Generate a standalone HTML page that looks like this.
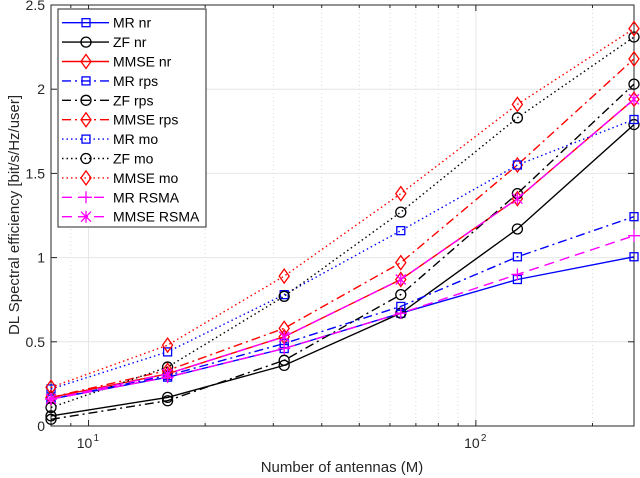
<!DOCTYPE html>
<html><head><meta charset="utf-8"><style>
html,body{margin:0;padding:0;background:#fff;}
svg{display:block;font-family:"Liberation Sans",Arial,sans-serif;}
</style></head><body>
<svg id="chart" width="640" height="478" viewBox="0 0 640 478"></svg>
<script>
const antennas = [8, 16, 32, 64, 128, 256];
const mrNr    = [0.16, 0.29, 0.46, 0.67, 0.87, 1.005];
const zfNr    = [0.06, 0.17, 0.36, 0.67, 1.17, 1.79];
const mmseNr  = [0.17, 0.31, 0.53, 0.87, 1.35, 1.94];
const mrRps   = [0.16, 0.30, 0.49, 0.71, 1.005, 1.243];
const zfRps   = [0.04, 0.15, 0.39, 0.78, 1.38, 2.03];
const mmseRps = [0.17, 0.33, 0.58, 0.97, 1.55, 2.18];
const mrMo    = [0.22, 0.44, 0.78, 1.16, 1.55, 1.82];
const zfMo    = [0.11, 0.35, 0.77, 1.27, 1.83, 2.31];
const mmseMo  = [0.23, 0.48, 0.89, 1.38, 1.91, 2.36];
const mrRsma  = [0.16, 0.29, 0.46, 0.67, 0.90, 1.13];
const mmseRsma= [0.16, 0.31, 0.53, 0.87, 1.35, 1.94];
const yTicks = [0, 0.5, 1, 1.5, 2, 2.5];
const yTickLabels = ["0", "0.5", "1", "1.5", "2", "2.5"];

const svg = document.getElementById('chart');
const NS = 'http://www.w3.org/2000/svg';
const L = 51, R = 634, T = 5, B = 426;
const xMin = 8, xMax = 256, yMin = 0, yMax = 2.5;
function xs(v){ return L + (Math.log10(v) - Math.log10(xMin)) / (Math.log10(xMax) - Math.log10(xMin)) * (R - L); }
function ys(v){ return B - (v - yMin) / (yMax - yMin) * (B - T); }
function mk(tag, attrs, parent){
  const e = document.createElementNS(NS, tag);
  for (const k in attrs) e.setAttribute(k, attrs[k]);
  (parent || svg).appendChild(e);
  return e;
}

// grid
const grid = mk('g', {});


const minorX = [9, 20, 30, 40, 50, 60, 70, 80, 90, 200];
minorX.forEach(v => mk('line', {x1: xs(v), x2: xs(v), y1: T, y2: B, stroke: '#d8d8d8', 'stroke-width': 1, 'stroke-dasharray': '1,3'}, grid));
[10, 100].forEach(v => mk('line', {x1: xs(v), x2: xs(v), y1: T, y2: B, stroke: '#e6e6e6', 'stroke-width': 1}, grid));
yTicks.forEach(v => mk('line', {x1: L, x2: R, y1: ys(v), y2: ys(v), stroke: '#e6e6e6', 'stroke-width': 1}, grid));

// axes box
const box = mk('rect', {x: L, y: T, width: R - L, height: B - T, fill: 'none', stroke: '#262626', 'stroke-width': 1});



// ticks
const ticks = mk('g', {stroke: '#262626', 'stroke-width': 1});


yTicks.forEach(v => {
  mk('line', {x1: L, x2: L + 6, y1: ys(v), y2: ys(v)}, ticks);
  mk('line', {x1: R, x2: R - 6, y1: ys(v), y2: ys(v)}, ticks);
});
[10, 100].forEach(v => {
  mk('line', {x1: xs(v), x2: xs(v), y1: B, y2: B - 6}, ticks);
  mk('line', {x1: xs(v), x2: xs(v), y1: T, y2: T + 6}, ticks);
});
minorX.concat([8]).forEach(v => {
  mk('line', {x1: xs(v), x2: xs(v), y1: B, y2: B - 3}, ticks);
  mk('line', {x1: xs(v), x2: xs(v), y1: T, y2: T + 3}, ticks);
});

// tick labels
yTicks.forEach((v, i) => {
  const t = mk('text', {x: L - 6, y: ys(v) + 5, 'text-anchor': 'end', 'font-size': 14, fill: '#262626'});
  t.textContent = yTickLabels[i];
  
  
});
[[10, '1'], [100, '2']].forEach(([v, e]) => {
  const t = mk('text', {x: xs(v) - 4, y: 448, 'text-anchor': 'middle', 'font-size': 14, fill: '#262626'});
  t.textContent = '10';
  
  
  const s = mk('text', {x: xs(v) + 5, y: 441, 'font-size': 10, fill: '#262626'});
  s.textContent = e;
  
  
});

const xt = mk('text', {x: 342, y: 472, 'text-anchor': 'middle', 'font-size': 15, fill: '#262626'});
xt.textContent = 'Number of antennas (M)';


const yt = mk('text', {x: 0, y: 0, 'text-anchor': 'middle', 'font-size': 15, fill: '#262626', transform: 'translate(19,215) rotate(-90)'});
yt.textContent = 'DL Spectral efficiency [bit/s/Hz/user]';



// markers
function marker(g, type, x, y, color){
  const a = {fill: 'none', stroke: color, 'stroke-width': 1.3};
  if (type === 'sq') mk('rect', Object.assign({x: x - 4, y: y - 4, width: 8, height: 8}, a), g);
  else if (type === 'ci') mk('circle', Object.assign({cx: x, cy: y, r: 5}, a), g);
  else if (type === 'di') mk('polygon', Object.assign({points: `${x},${y-7} ${x+5},${y} ${x},${y+7} ${x-5},${y}`}, a), g);
  else if (type === 'pl') mk('path', Object.assign({d: `M${x-6},${y}H${x+6}M${x},${y-6}V${y+6}`}, a), g);
  else if (type === 'st') mk('path', Object.assign({d: `M${x-5},${y-5}L${x+5},${y+5}M${x-5},${y+5}L${x+5},${y-5}M${x},${y-6}V${y+6}`}, a), g);
}
const BLUE = '#0000ff', RED = '#ff0000', BLK = '#000000', MAG = '#ff00ff';
const SOLID = '', DASHDOT = '9,4,2,4', DOT = '1.5,3', DASH = '10,6';
const series = [
  {name: 'MR nr', data: mrNr, c: BLUE, d: SOLID, m: 'sq', key: 'mr-nr'},
  {name: 'ZF nr', data: zfNr, c: BLK, d: SOLID, m: 'ci', key: 'zf-nr'},
  {name: 'MMSE nr', data: mmseNr, c: RED, d: SOLID, m: 'di', key: 'mmse-nr'},
  {name: 'MR rps', data: mrRps, c: BLUE, d: DASHDOT, m: 'sq', key: 'mr-rps'},
  {name: 'ZF rps', data: zfRps, c: BLK, d: DASHDOT, m: 'ci', key: 'zf-rps'},
  {name: 'MMSE rps', data: mmseRps, c: RED, d: DASHDOT, m: 'di', key: 'mmse-rps'},
  {name: 'MR mo', data: mrMo, c: BLUE, d: DOT, m: 'sq', key: 'mr-mo'},
  {name: 'ZF mo', data: zfMo, c: BLK, d: DOT, m: 'ci', key: 'zf-mo'},
  {name: 'MMSE mo', data: mmseMo, c: RED, d: DOT, m: 'di', key: 'mmse-mo'},
  {name: 'MR RSMA', data: mrRsma, c: MAG, d: DASH, m: 'pl', key: 'mr-rsma'},
  {name: 'MMSE RSMA', data: mmseRsma, c: MAG, d: DASH, m: 'st', key: 'mmse-rsma'}
];
series.forEach(s => {
  const g = mk('g', {});
  
  
  const pts = s.data.map((v, i) => xs(antennas[i]).toFixed(1) + ',' + ys(v).toFixed(1)).join(' ');
  const pl = mk('polyline', {points: pts, fill: 'none', stroke: s.c, 'stroke-width': 1.4}, g);
  if (s.d) pl.setAttribute('stroke-dasharray', s.d);
  s.data.forEach((v, i) => marker(g, s.m, xs(antennas[i]), ys(v), s.c));
});

// legend
const lg = mk('g', {});


mk('rect', {x: 58, y: 9, width: 148, height: 218, fill: '#fff', stroke: '#262626', 'stroke-width': 1}, lg);
series.forEach((s, i) => {
  const y = 22.7 + i * 19.4;
  const e = mk('g', {}, lg);
  
  
  const ln = mk('line', {x1: 62, x2: 109, y1: y, y2: y, stroke: s.c, 'stroke-width': 1.4}, e);
  if (s.d) ln.setAttribute('stroke-dasharray', s.d);
  marker(e, s.m, 86, y, s.c);
  const t = mk('text', {x: 113, y: y + 5, 'font-size': 14, fill: '#000'}, e);
  t.textContent = s.name;
});
</script>
</body></html>
